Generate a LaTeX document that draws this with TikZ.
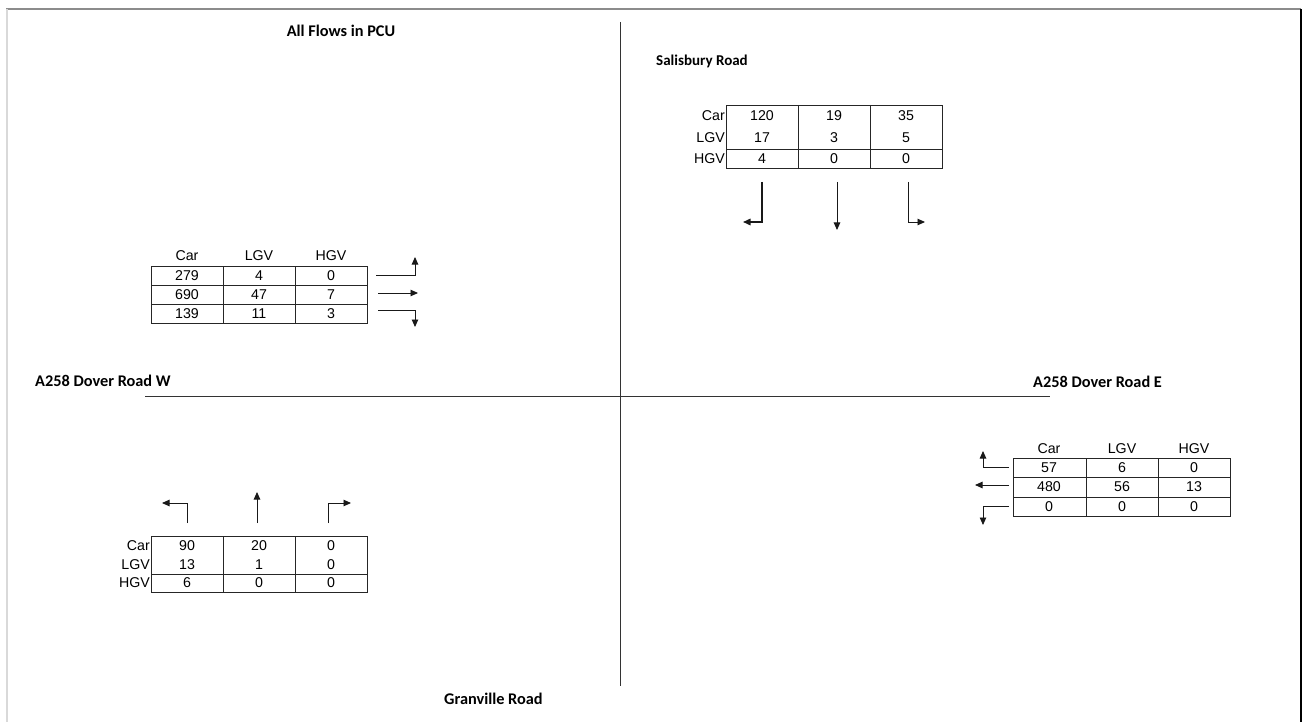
\documentclass[tikz,border=0pt]{standalone}
\usepackage{fontspec}
\setmainfont{Liberation Sans}
\newfontfamily\lblfont{Carlito}
\usetikzlibrary{arrows.meta}
\begin{document}
\begin{tikzpicture}[x=1pt,y=-1pt,
  grid/.style={draw=black!85,line width=0.9pt},
  road/.style={draw=black!80,line width=0.9pt},
  lbl/.style={font=\lblfont\bfseries\fontsize{16.3}{19}\selectfont,inner sep=0pt},
  cell/.style={font=\fontsize{14.2}{16}\selectfont,inner sep=0pt},
  rlab/.style={cell,anchor=east},
  flow/.style={draw=black!90,line width=0.9pt,-{Triangle[length=7.5pt,width=6.5pt]}},
  flowb/.style={flow,line width=1.5pt}]
\useasboundingbox (0,0) rectangle (1306,722);
% frame
\draw[black!45,line width=1.2pt] (6,9) -- (1301,9);
\draw[black!15,line width=1.2pt] (7,9) -- (7,722);
\draw[black,line width=2pt] (1301,9) -- (1301,722);
% roads
\coordinate (vt) at (620,22); \coordinate (vb) at (620,686);
\coordinate (hl) at (145,396); \coordinate (hr) at (1050,396);
\draw[road] (vt) -- (vb);
\draw[road] (hl) -- (hr);
% labels
\node[lbl] (title) at (341,31) {All Flows in PCU};
\node[lbl,anchor=west,font=\lblfont\bfseries\fontsize{15}{18}\selectfont] (sal) at (656,61) {Salisbury Road};
\node[lbl,anchor=west] (dw) at (35,381) {A258 Dover Road W};
\node[lbl,anchor=west] (de) at (1033,382) {A258 Dover Road E};
\node[lbl,anchor=west] (gr) at (444,699) {Granville Road};

% ---- West table
\draw[grid] (151,266) rectangle (367,323);
\draw[grid] (151,285) -- (367,285) (151,304) -- (367,304) (223,266) -- (223,323) (295,266) -- (295,323);
\node[cell] (wh1) at (187,256) {Car};
\node[cell] (wh2) at (259,256) {LGV};
\node[cell] (wh3) at (331,256) {HGV};
\foreach \r/\y/\a/\b/\c in {1/275.5/279/4/0, 2/294.5/690/47/7, 3/313.5/139/11/3}{
  \node[cell] (w\r a) at (187,\y) {\a};
  \node[cell] (w\r b) at (259,\y) {\b};
  \node[cell] (w\r c) at (331,\y) {\c};
}
\coordinate (wa1) at (376,275); \coordinate (wa1e) at (415,257);
\draw[flow] (wa1) -| (wa1e);
\coordinate (wa2) at (378,293); \coordinate (wa2e) at (418,293);
\draw[flow] (wa2) -- (wa2e);
\coordinate (wa3) at (378,310); \coordinate (wa3e) at (415,327);
\draw[flow] (wa3) -| (wa3e);

% ---- North table (Salisbury)
\draw[grid] (726,105) rectangle (942,168);
\draw[grid] (726,149) -- (942,149) (798,105) -- (798,168) (870,105) -- (870,168);
\foreach \r/\y/\l/\a/\b/\c in {1/116/Car/120/19/35, 2/138/LGV/17/3/5, 3/158.5/HGV/4/0/0}{
  \node[rlab] (n\r l) at (725,\y) {\l};
  \node[cell] (n\r a) at (762,\y) {\a};
  \node[cell] (n\r b) at (834,\y) {\b};
  \node[cell] (n\r c) at (906,\y) {\c};
}
\coordinate (na1) at (762,182); \coordinate (na1e) at (743,222);
\draw[flowb] (na1) |- (na1e);
\coordinate (na2) at (837,182); \coordinate (na2e) at (837,230);
\draw[flow] (na2) -- (na2e);
\coordinate (na3) at (908,182); \coordinate (na3e) at (925,222);
\draw[flow] (na3) |- (na3e);

% ---- East table
\draw[grid] (1013,458) rectangle (1230,516);
\draw[grid] (1013,477) -- (1230,477) (1013,497) -- (1230,497) (1086,458) -- (1086,516) (1158,458) -- (1158,516);
\node[cell] (eh1) at (1049,449) {Car};
\node[cell] (eh2) at (1122,449) {LGV};
\node[cell] (eh3) at (1194,449) {HGV};
\foreach \r/\y/\a/\b/\c in {1/467.5/57/6/0, 2/487/480/56/13, 3/506.5/0/0/0}{
  \node[cell] (e\r a) at (1049,\y) {\a};
  \node[cell] (e\r b) at (1122,\y) {\b};
  \node[cell] (e\r c) at (1194,\y) {\c};
}
\coordinate (ea1) at (1009,467); \coordinate (ea1e) at (983,451);
\draw[flow] (ea1) -| (ea1e);
\coordinate (ea2) at (1009,485); \coordinate (ea2e) at (975,485);
\draw[flow] (ea2) -- (ea2e);
\coordinate (ea3) at (1009,506); \coordinate (ea3e) at (983,525);
\draw[flow] (ea3) -| (ea3e);

% ---- South table (Granville)
\draw[grid] (151,536) rectangle (367,592);
\draw[grid] (151,574) -- (367,574) (223,536) -- (223,592) (295,536) -- (295,592);
\foreach \r/\y/\l/\a/\b/\c in {1/546/Car/90/20/0, 2/565/LGV/13/1/0, 3/583/HGV/6/0/0}{
  \node[rlab] (s\r l) at (150,\y) {\l};
  \node[cell] (s\r a) at (187,\y) {\a};
  \node[cell] (s\r b) at (259,\y) {\b};
  \node[cell] (s\r c) at (331,\y) {\c};
}
\coordinate (sa1) at (187,523); \coordinate (sa1e) at (162,503);
\draw[flow] (sa1) |- (sa1e);
\coordinate (sa2) at (257,523); \coordinate (sa2e) at (257,492);
\draw[flow] (sa2) -- (sa2e);
\coordinate (sa3) at (328,523); \coordinate (sa3e) at (351,503);
\draw[flow] (sa3) |- (sa3e);
\end{tikzpicture}
\end{document}
